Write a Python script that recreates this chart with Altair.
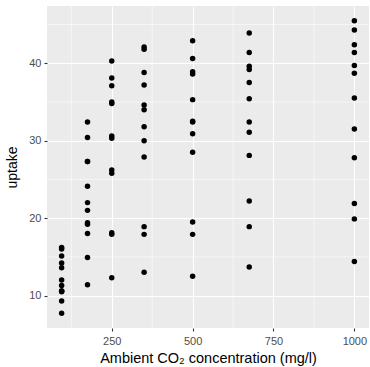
import altair as alt
import pandas as pd

conc = [95, 175, 250, 350, 500, 675, 1000]
uptake_by_plant = {
    "Qn1": [16.0, 30.4, 34.8, 37.2, 35.3, 39.2, 39.7],
    "Qn2": [13.6, 27.3, 37.1, 41.8, 40.6, 41.4, 44.3],
    "Qn3": [16.2, 32.4, 40.3, 42.1, 42.9, 43.9, 45.5],
    "Qc1": [14.2, 24.1, 30.3, 34.6, 32.5, 35.4, 38.7],
    "Qc3": [15.1, 21.0, 38.1, 34.0, 38.9, 39.6, 41.4],
    "Qc2": [9.3, 27.3, 35.0, 38.8, 38.6, 37.5, 42.4],
    "Mn3": [11.3, 19.4, 25.8, 27.9, 28.5, 28.1, 27.8],
    "Mn2": [12.0, 22.0, 30.6, 31.8, 32.4, 31.1, 31.5],
    "Mn1": [10.6, 19.2, 26.2, 30.0, 30.9, 32.4, 35.5],
    "Mc2": [7.7, 11.4, 12.3, 13.0, 12.5, 13.7, 14.4],
    "Mc3": [10.6, 18.0, 17.9, 17.9, 17.9, 18.9, 19.9],
    "Mc1": [10.5, 14.9, 18.1, 18.9, 19.5, 22.2, 21.9],
}
x_ticks = [250, 500, 750, 1000]
y_ticks = [10, 20, 30, 40]
x_minor = [125, 375, 625, 875]
y_minor = [15, 25, 35, 45]

rows = []
for plant, ups in uptake_by_plant.items():
    for c, u in zip(conc, ups):
        rows.append({"plant": plant, "conc": c, "uptake": u})
df = pd.DataFrame(rows)

xmin, xmax = min(conc), max(conc)
ymin, ymax = df["uptake"].min(), df["uptake"].max()
xpad = (xmax - xmin) * 0.05
ypad = (ymax - ymin) * 0.05
xdom = [xmin - xpad, xmax + xpad]
ydom = [ymin - ypad, ymax + ypad]

FONT = "Liberation Sans"

xscale = alt.Scale(domain=xdom, nice=False, zero=False)
yscale = alt.Scale(domain=ydom, nice=False, zero=False)

xaxis = alt.Axis(values=x_ticks, format="d", title="Ambient CO₂ concentration (mg/l)",
                 grid=True, gridColor="white", gridWidth=1.1,
                 domain=False, tickColor="#333333", tickSize=3, tickWidth=1.1,
                 labelColor="#4D4D4D", labelFont=FONT, labelFontSize=11, labelPadding=4,
                 titleFont=FONT, titleFontSize=14.5, titleFontWeight="normal",
                 titleColor="black", titlePadding=5)
yaxis = alt.Axis(values=y_ticks, format="d", title="uptake",
                 grid=True, gridColor="white", gridWidth=1.1,
                 domain=False, tickColor="#333333", tickSize=3, tickWidth=1.1,
                 labelColor="#4D4D4D", labelFont=FONT, labelFontSize=11, labelPadding=3,
                 titleFont=FONT, titleFontSize=14, titleFontWeight="normal",
                 titleColor="black", titlePadding=9)

minor_x = alt.Chart(pd.DataFrame({"v": x_minor})).mark_rule(color="white", strokeWidth=0.55).encode(
    x=alt.X("v:Q", scale=xscale, axis=xaxis))
minor_y = alt.Chart(pd.DataFrame({"v": y_minor})).mark_rule(color="white", strokeWidth=0.55).encode(
    y=alt.Y("v:Q", scale=yscale, axis=yaxis))

points = alt.Chart(df).mark_circle(color="black", opacity=1, size=30).encode(
    x=alt.X("conc:Q", scale=xscale, axis=xaxis),
    y=alt.Y("uptake:Q", scale=yscale, axis=yaxis),
)

chart = alt.layer(minor_x, minor_y, points).properties(
    width=322, height=322,
    autosize=alt.AutoSizeParams(type="none"),
    padding={"left": 47, "top": 6, "right": 1, "bottom": 39},
    background="white",
).configure_view(fill="#EBEBEB", stroke=None)

chart.save("out.html", embed_options={"renderer": "svg", "actions": False})
